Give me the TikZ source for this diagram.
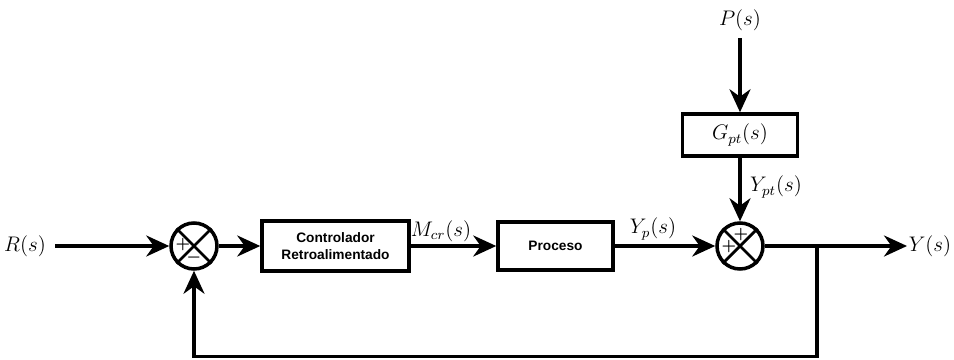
\documentclass[tikz,border=0pt]{standalone}
\usepackage{fontspec}
\usepackage{amsmath}
\usepackage{tikz}
\usetikzlibrary{arrows.meta,positioning,calc}
\newfontfamily\blockfont{Liberation Sans}
\tikzset{
  block/.style  ={rectangle,draw,line width=2pt,inner sep=0pt,align=center,
                  font=\blockfont\bfseries\fontsize{7.8}{9.5}\selectfont},
  sumj/.style   ={circle,draw,line width=2pt,minimum size=9.2mm,inner sep=0pt},
  sgn/.style    ={inner sep=0pt,font=\bfseries\small},
  signal/.style ={line width=2pt,-{Stealth[length=4.6mm,width=4.2mm]}},
  wire/.style   ={line width=2pt},
  lbl/.style    ={inner sep=1pt,font=\large},
}
\begin{document}
\begin{tikzpicture}
  \useasboundingbox (0,0) rectangle (19.08,7.18);
  % summing junctions
  \node[sumj] (s1) at (3.88,2.26){};
  \node[sumj] (s2) at (14.8,2.26){};
  \foreach \s in {s1,s2}{
     \draw[wire,line width=1.6pt] (\s.north west)--(\s.south east);
     \draw[wire,line width=1.6pt] (\s.north east)--(\s.south west);
  }
  \node[sgn] (s1a) at ($(s1)+(-0.22,0.02)$){$\boldsymbol{+}$};
  \node[sgn] (s1b) at ($(s1)+(0,-0.24)$){$\boldsymbol{-}$};
  \node[sgn] (s2a) at ($(s2)+(-0.22,-0.02)$){$\boldsymbol{+}$};
  \node[sgn] (s2b) at ($(s2)+(0.02,0.22)$){$\boldsymbol{+}$};
  % blocks
  \node[block,minimum width=2.94cm,minimum height=1.0cm] (ctrl) at (6.71,2.26)
       {Controlador\\Retroalimentado};
  \node[block,minimum width=2.3cm,minimum height=0.96cm] (proc) at (11.11,2.26){Proceso};
  \node[block,minimum width=2.3cm,minimum height=0.84cm,font=\large] (gpt) at (14.8,4.48)
       {$G_{pt}(s)$};
  % inputs and output
  \node[lbl] (r) at (0.5,2.26){$R(s)$};
  \node[lbl] (p) at (14.8,6.78){$P(s)$};
  \node[lbl] (y) at (18.6,2.26){$Y(s)$};
  \coordinate (rin) at (1.1,2.26);
  \coordinate (pin) at (14.8,6.42);
  \coordinate (yout) at (18.14,2.26);
  \coordinate (br) at (16.34,2.26);
  \coordinate (fb1) at (16.34,0.05);
  \coordinate (fb2) at (3.88,0.05);
  % signals
  \draw[signal] (rin)--(s1.west);
  \draw[signal] (s1.east)--(ctrl.west);
  \draw[signal] (ctrl.east)--(proc.west);
  \draw[signal] (proc.east)--(s2.west);
  \draw[signal] (pin)--(gpt.north);
  \draw[signal] (gpt.south)--(s2.north);
  \draw[signal] (s2.east)--(yout);
  \draw[wire] (br)--(fb1)--(fb2)--($(fb2)+(0,0.4)$);
  \draw[signal] ($(fb2)+(0,0.3)$)--(s1.south);
  % signal labels
  \node[lbl] (mcr) at (8.82,2.56){$M_{cr}(s)$};
  \node[lbl] (yp) at (13.06,2.6){$Y_p(s)$};
  \node[lbl] (ypt) at (15.52,3.44){$Y_{pt}(s)$};
\end{tikzpicture}
\end{document}
